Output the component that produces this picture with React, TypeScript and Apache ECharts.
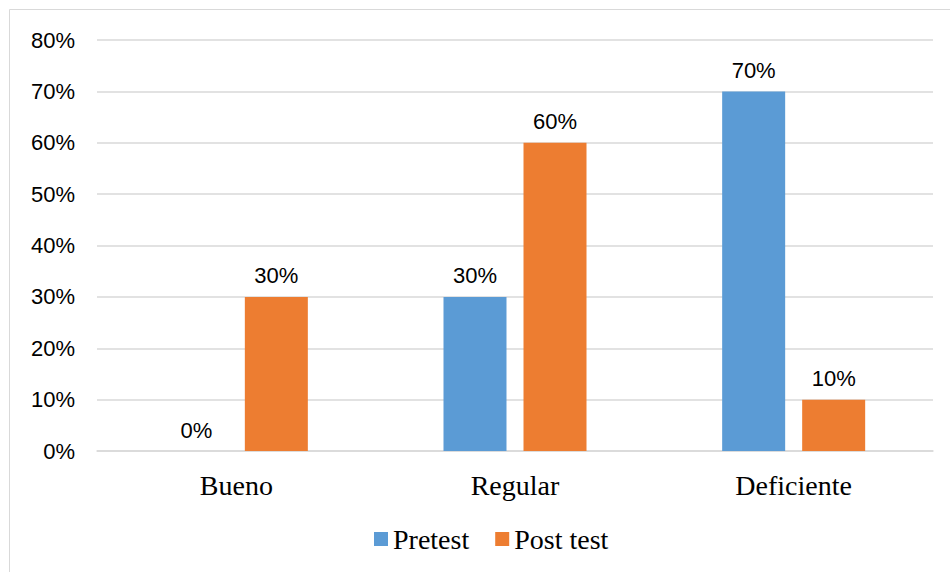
import React, { useEffect, useRef } from "react";
import * as echarts from "echarts";

const categories = ["Bueno", "Regular", "Deficiente"];
const pretest = [0, 30, 70];
const postTest = [30, 60, 10];
const seriesNames = ["Pretest", "Post test"];

export default function App() {
  const ref = useRef<HTMLDivElement>(null);
  useEffect(() => {
    const chart = echarts.init(ref.current!, null, { renderer: "svg" });
    const labelStyle = {
      show: true,
      position: "top" as const,
      distance: 10,
      formatter: "{c}%",
      fontFamily: "Liberation Sans, Arial",
      fontSize: 22,
      color: "#000",
    };
    chart.setOption({
      animation: false,
      backgroundColor: "#fff",
      graphic: [
        {
          type: "rect",
          shape: { x: 9.5, y: 9.5, width: 1000, height: 700 },
          style: { fill: "none", stroke: "#D9D9D9", lineWidth: 1 },
          silent: true,
        },
      ],
      grid: { left: 97, right: 17, top: 40, bottom: 121 },
      legend: {
        bottom: 14,
        left: 369,
        itemWidth: 14,
        itemHeight: 14,
        itemGap: 26,
        icon: "rect",
        textStyle: { fontFamily: "Liberation Serif, Times New Roman", fontSize: 28, color: "#000" },
        data: seriesNames,
      },
      xAxis: {
        type: "category",
        data: categories,
        axisLine: { lineStyle: { color: "#D9D9D9", width: 1.5 } },
        axisTick: { show: false },
        axisLabel: {
          margin: 20,
          fontFamily: "Liberation Serif, Times New Roman",
          fontSize: 28,
          color: "#000",
        },
      },
      yAxis: {
        type: "value",
        min: 0,
        max: 80,
        interval: 10,
        axisLine: { show: false },
        axisTick: { show: false },
        splitLine: { lineStyle: { color: "#D9D9D9", width: 1.5 } },
        axisLabel: {
          formatter: "{value}%",
          margin: 22,
          fontFamily: "Liberation Sans, Arial",
          fontSize: 22,
          color: "#000",
        },
      },
      series: [
        {
          name: seriesNames[0],
          type: "bar",
          data: pretest,
          barWidth: 63,
          barGap: "27%",
          itemStyle: { color: "#5B9BD5" },
          label: labelStyle,
        },
        {
          name: seriesNames[1],
          type: "bar",
          data: postTest,
          barWidth: 63,
          barGap: "27%",
          itemStyle: { color: "#ED7D31" },
          label: labelStyle,
        },
      ],
    });
    return () => chart.dispose();
  }, []);
  return (
    <div
      ref={ref}
      style={{ position: "fixed", left: 0, top: 0, width: 950, height: 572 }}
    />
  );
}
